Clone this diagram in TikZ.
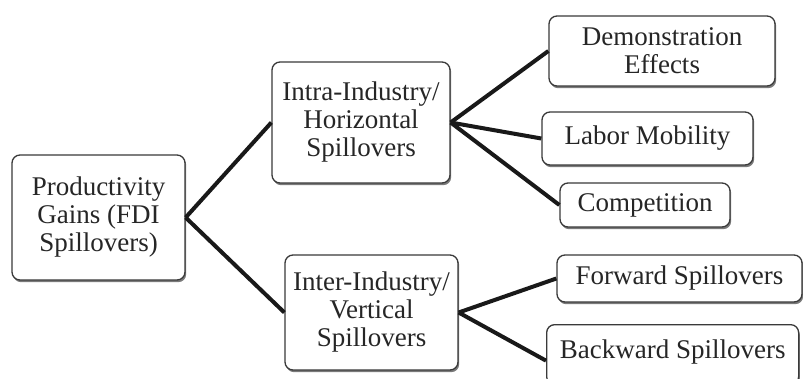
\documentclass[tikz,border=0pt]{standalone}
\usepackage{fontspec}
\setmainfont{Liberation Serif}
\usetikzlibrary{shadows}
\definecolor{boxline}{HTML}{3A3A3A}
\definecolor{txt}{HTML}{262626}
\tikzset{
  box/.style={draw=boxline, line width=1.3pt, rounded corners=8pt, fill=white,
    drop shadow={shadow xshift=1.2pt, shadow yshift=-2.2pt, fill=black!65, opacity=0.8},
    align=center, inner sep=0pt, text=txt,
    font=\fontsize{27}{28}\selectfont},
  link/.style={line width=4pt, draw=black!90}
}
\begin{document}
\begin{tikzpicture}[x=1pt,y=-1pt]
\useasboundingbox[fill=white] (0,0) rectangle (803,378);
\node[box, minimum width=173pt, minimum height=125pt] (root) at (98.5,217.5) {Productivity\\Gains (FDI\\Spillovers)};
\node[box, minimum width=178pt, minimum height=121pt] (intra) at (361,122.5) {Intra-Industry/\\Horizontal\\Spillovers};
\node[box, minimum width=173pt, minimum height=115pt] (inter) at (371.5,312.5) {Inter-Industry/\\Vertical\\Spillovers};
\node[box, minimum width=226pt, minimum height=70pt] (demo) at (662,51) {Demonstration\\Effects};
\node[box, minimum width=211pt, minimum height=53pt] (labor) at (647.5,138.5) {Labor Mobility};
\node[box, minimum width=170pt, minimum height=44pt] (comp) at (645,205) {Competition};
\node[box, minimum width=245pt, minimum height=47pt] (fwd) at (679.5,278.5) {Forward Spillovers};
\node[box, minimum width=252pt, text height=34pt, text depth=26pt, anchor=north west] (bwd) at (546,324) {Backward Spillovers};
\draw[link] (root.east) -- (intra.west);
\draw[link] (root.east) -- (inter.west);
\draw[link] (intra.east) -- (demo.west);
\draw[link] (intra.east) -- (labor.west);
\draw[link] (intra.east) -- (comp.west);
\draw[link] (inter.east) -- (fwd.west);
\draw[link] (inter.east) -- ([yshift=-6pt]bwd.west);
\end{tikzpicture}
\end{document}
